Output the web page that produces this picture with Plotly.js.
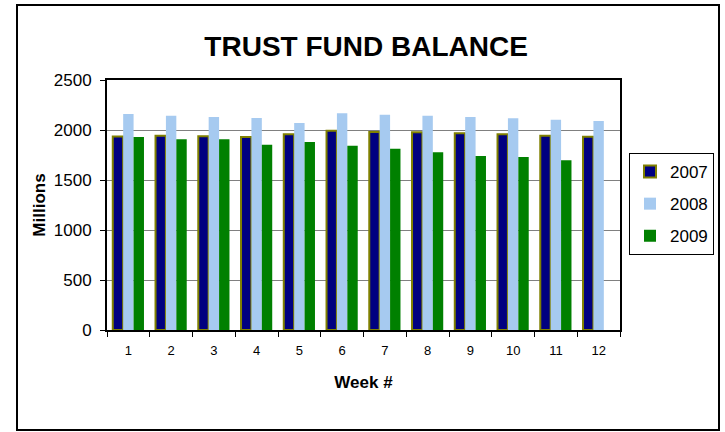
<!DOCTYPE html>
<html>
<head>
<meta charset="utf-8">
<script src="https://cdn.plot.ly/plotly-3.0.1.min.js"></script>
<style>
  html, body { margin: 0; padding: 0; background: #ffffff; }
  #chart { width: 725px; height: 432px; }
</style>
</head>
<body>
<div id="chart"></div>
<script>
const weeks = ["1","2","3","4","5","6","7","8","9","10","11","12"];
const y2007 = [1935, 1943, 1937, 1930, 1957, 1993, 1980, 1977, 1967, 1957, 1943, 1933];
const y2008 = [2160, 2143, 2130, 2120, 2070, 2167, 2153, 2143, 2130, 2117, 2103, 2090];
const y2009 = [1930, 1907, 1907, 1853, 1880, 1843, 1813, 1777, 1740, 1730, 1697, null];
const seriesNames = ["2007", "2008", "2009"];
const yTicks = [0, 500, 1000, 1500, 2000, 2500];

const font = "Liberation Sans, Arial, sans-serif";

const traces = [
  { type: "bar", name: seriesNames[0], x: weeks, y: y2007, legendgroup: "a",
    marker: { color: "#000080", line: { color: "#808000", width: 2 } } },
  { type: "bar", name: seriesNames[1], x: weeks, y: y2008, legendgroup: "b",
    marker: { color: "#A6CAF0", line: { color: "#A6CAF0", width: 0 } } },
  { type: "bar", name: seriesNames[2], x: weeks, y: y2009, legendgroup: "c",
    marker: { color: "#008000", line: { color: "#008000", width: 0 } } }
];

const layout = {
  width: 725, height: 432,
  margin: { l: 107, r: 105, t: 80, b: 102, pad: 0, autoexpand: false },
  paper_bgcolor: "#ffffff", plot_bgcolor: "#ffffff",
  font: { family: font, color: "#000000" },
  title: { text: "<b>TRUST FUND BALANCE</b>", font: { family: font, size: 28, color: "#000" },
           x: 0.505, xanchor: "center", y: 0.893, yanchor: "middle" },
  barmode: "group", bargap: 0.27, bargroupgap: 0,
  xaxis: {
    type: "category", tickson: "boundaries", ticks: "outside", ticklen: 5, tickcolor: "#000",
    showline: true, linecolor: "#000", linewidth: 2, mirror: true, showgrid: false,
    ticklabelstandoff: 7,
    tickfont: { family: font, size: 13, color: "#000" },
    title: { text: "<b>Week #</b>", font: { family: font, size: 17, color: "#000" }, standoff: 20 }
  },
  yaxis: {
    range: [0, 2500], tickvals: yTicks, ticks: "outside", ticklen: 5, tickcolor: "#000",
    showline: true, linecolor: "#000", linewidth: 2, mirror: true,
    showgrid: true, gridcolor: "#808080", gridwidth: 1, zeroline: false,
    ticklabelstandoff: 5,
    tickfont: { family: font, size: 17, color: "#000" },
    title: { text: "<b>Millions</b>", font: { family: font, size: 17, color: "#000" }, standoff: 4 }
  },
  legend: {
    x: (629 - 107) / 513, xanchor: "left", y: 0.708, yanchor: "top",
    bordercolor: "#000", borderwidth: 1, bgcolor: "#fff",
    font: { family: font, size: 17, color: "#000" },
    traceorder: "grouped", tracegroupgap: 7
  },
  shapes: [
    { type: "rect", xref: "paper", yref: "paper",
      x0: (17 - 107) / 513, x1: (719 - 107) / 513,
      y0: (330 - 430) / 250, y1: (330 - 5) / 250,
      line: { color: "#000", width: 2 }, fillcolor: "rgba(0,0,0,0)", layer: "below" }
  ]
};

Plotly.newPlot("chart", traces, layout, { displayModeBar: false, staticPlot: true });
</script>
</body>
</html>
